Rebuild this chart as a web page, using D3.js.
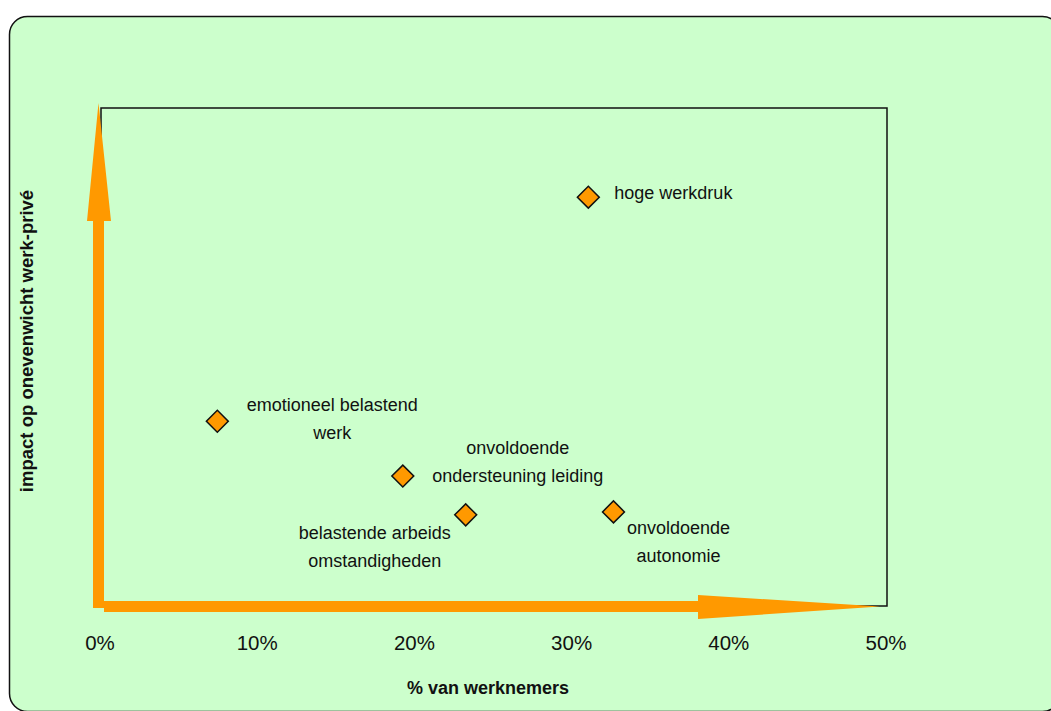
<!DOCTYPE html>
<html>
<head>
<meta charset="utf-8">
<script src="https://cdn.jsdelivr.net/npm/d3@7"></script>
<style>
  body { margin: 0; background: #fff; }
  svg text { font-family: "Liberation Sans", Arial, sans-serif; fill: #111; }
</style>
</head>
<body>
<div id="chart"></div>
<script>
// data
const names = [
    ["hoge werkdruk"],
    ["emotioneel belastend", "werk"],
    ["onvoldoende", "ondersteuning leiding"],
    ["belastende arbeids", "omstandigheden"],
    ["onvoldoende", "autonomie"]
];
const pctWorkers = [0.31, 0.074, 0.192, 0.232, 0.326];
const impact = [82.1, 37.1, 26.1, 18.3, 18.9];
const xTicks = [0, 0.1, 0.2, 0.3, 0.4, 0.5];

// label placement relative to the marker (anchor, dx, dy of first line)
const labelPos = [
    { anchor: "start", dx: 26, dy: -4 },
    { anchor: "middle", dx: 115, dy: -16 },
    { anchor: "middle", dx: 115, dy: -28 },
    { anchor: "middle", dx: -91, dy: 18 },
    { anchor: "middle", dx: 65, dy: 16 }
];

const W = 1051, H = 711;
const svg = d3.select("#chart").append("svg")
    .attr("width", W)
    .attr("height", H);

// rounded green frame
svg.append("rect")
    .attr("x", 9.5).attr("y", 16.5)
    .attr("width", 1051).attr("height", 695)
    .attr("rx", 18).attr("ry", 18)
    .style("fill", "#CCFFCC")
    .style("stroke", "#111")
    .style("stroke-width", 1.5);

const x = d3.scaleLinear().domain([0, 0.5]).range([101, 887]);
const y = d3.scaleLinear().domain([0, 100]).range([606, 108]);

// plot area border
svg.append("rect")
    .attr("x", x(0)).attr("y", y(100))
    .attr("width", x(0.5) - x(0)).attr("height", y(0) - y(100))
    .style("fill", "none")
    .style("stroke", "#111")
    .style("stroke-width", 1.5);

// orange axis arrows
const orange = "#FF9900";
const vx = x(0) - 2.5, hy = y(0) + 0.5;
svg.append("path")
    .attr("d", `M${vx - 5.5},${hy + 1.5} L${vx - 5.5},221 L${vx - 11.5},221 L${vx},${y(100) - 5}
        L${vx + 12.5},221 L${vx + 5.5},221 L${vx + 5.5},${hy + 1.5} Z`)
    .style("fill", orange);
svg.append("path")
    .attr("d", `M${vx + 5.5},${hy - 5.5} L698,${hy - 5.5} L698,${hy - 11.5} L${x(0.5) - 7},${hy}
        L698,${hy + 12.5} L698,${hy + 5.5} L${vx + 5.5},${hy + 5.5} Z`)
    .style("fill", orange);

// x tick labels
svg.selectAll(".tick-label")
    .data(xTicks)
    .enter()
    .append("text")
    .attr("class", "tick-label")
    .attr("x", d => x(d) - 1)
    .attr("y", 650)
    .attr("text-anchor", "middle")
    .style("font-size", "20.5px")
    .text(d => d3.format(".0%")(d));

// axis titles
svg.append("text")
    .attr("x", 488).attr("y", 694)
    .attr("text-anchor", "middle")
    .style("font-size", "18px")
    .style("font-weight", "bold")
    .text("% van werknemers");

svg.append("text")
    .attr("transform", "translate(33,341) rotate(-90)")
    .attr("text-anchor", "middle")
    .style("font-size", "18.5px")
    .style("font-weight", "bold")
    .text("impact op onevenwicht werk-privé");

// markers
const idx = d3.range(names.length);
svg.selectAll(".point")
    .data(idx)
    .enter()
    .append("path")
    .attr("class", "point")
    .attr("d", d3.symbol(d3.symbolSquare, 240))
    .attr("transform", i => `translate(${x(pctWorkers[i])},${y(impact[i])}) rotate(45)`)
    .style("fill", orange)
    .style("stroke", "#111")
    .style("stroke-width", 1.5);

// point labels
const labels = svg.selectAll(".point-label")
    .data(idx)
    .enter()
    .append("text")
    .attr("class", "point-label")
    .attr("text-anchor", i => labelPos[i].anchor)
    .style("font-size", "18px");

labels.selectAll("tspan")
    .data(i => names[i].map((line, k) => ({ i, k, line })))
    .enter()
    .append("tspan")
    .attr("x", d => x(pctWorkers[d.i]) + labelPos[d.i].dx)
    .attr("y", d => y(impact[d.i]) + labelPos[d.i].dy + d.k * 28)
    .attr("dominant-baseline", "central")
    .text(d => d.line);
</script>
</body>
</html>
